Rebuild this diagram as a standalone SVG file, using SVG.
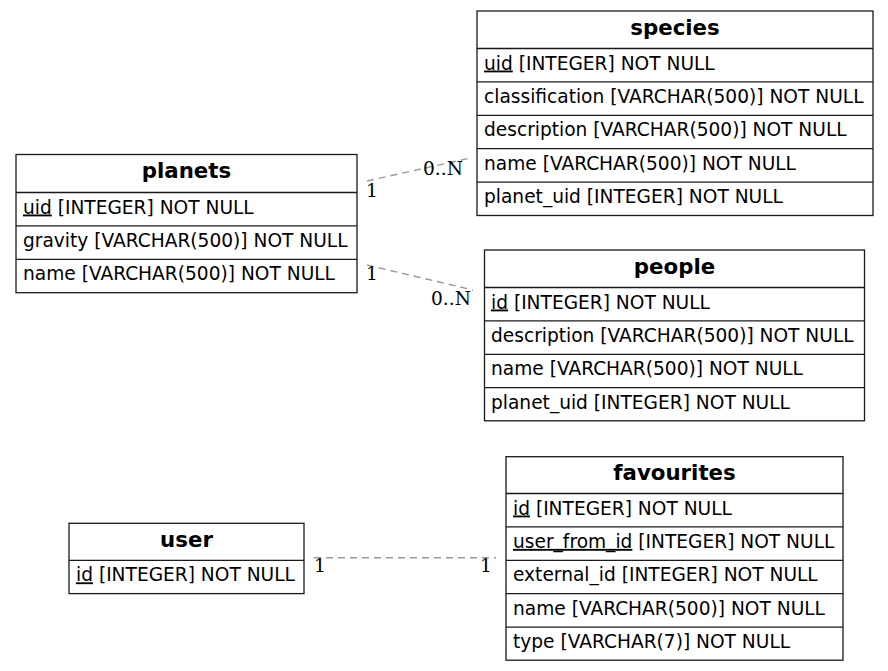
<svg xmlns="http://www.w3.org/2000/svg" width="888" height="671" viewBox="0 0 888 671">
<style>
.box{fill:#fff;stroke:#1a1a1a;stroke-width:1.3}
.sep{stroke:#1a1a1a;stroke-width:1.3}
.title{font-family:"DejaVu Sans",sans-serif;font-weight:bold;font-size:21.3px;fill:#000;text-anchor:middle}
.f{font-family:"DejaVu Sans",sans-serif;font-size:18.6px;fill:#000}
.pk{text-decoration:underline}
.edge{stroke:#999;stroke-width:1.4;stroke-dasharray:7,5;fill:none}
.lbl{font-family:"DejaVu Serif",serif;font-size:18.6px;fill:#000}
</style>
<rect width="888" height="671" fill="#fff"/>
<g id="connectors">
  <line class="edge" x1="367" y1="181" x2="468" y2="158.5"/>
  <line class="edge" x1="367" y1="265" x2="473" y2="290"/>
  <line class="edge" x1="314" y1="557.7" x2="496" y2="557.7"/>
  <text class="lbl" x="366" y="197">1</text>
  <text class="lbl" x="423" y="175">0..N</text>
  <text class="lbl" x="366" y="280">1</text>
  <text class="lbl" x="431" y="305">0..N</text>
  <text class="lbl" x="314" y="572">1</text>
  <text class="lbl" x="480" y="572">1</text>
</g>
<g id="species">
  <rect class="box" x="477" y="11" width="396" height="204.5"/>
  <line class="sep" x1="477" y1="48.5" x2="873" y2="48.5"/>
  <line class="sep" x1="477" y1="81.9" x2="873" y2="81.9"/>
  <line class="sep" x1="477" y1="115.3" x2="873" y2="115.3"/>
  <line class="sep" x1="477" y1="148.7" x2="873" y2="148.7"/>
  <line class="sep" x1="477" y1="182.1" x2="873" y2="182.1"/>
  <text class="title" x="675" y="34.5">species</text>
  <text class="f" x="484" y="69.5"><tspan class="pk">uid</tspan> [INTEGER] NOT NULL</text>
  <text class="f" x="484" y="102.9">classification [VARCHAR(500)] NOT NULL</text>
  <text class="f" x="484" y="136.3">description [VARCHAR(500)] NOT NULL</text>
  <text class="f" x="484" y="169.7">name [VARCHAR(500)] NOT NULL</text>
  <text class="f" x="484" y="203.1">planet_uid [INTEGER] NOT NULL</text>
</g>
<g id="planets">
  <rect class="box" x="16" y="154.5" width="341" height="138.2"/>
  <line class="sep" x1="16" y1="192.5" x2="357" y2="192.5"/>
  <line class="sep" x1="16" y1="225.9" x2="357" y2="225.9"/>
  <line class="sep" x1="16" y1="259.3" x2="357" y2="259.3"/>
  <text class="title" x="186.5" y="178">planets</text>
  <text class="f" x="23" y="213.5"><tspan class="pk">uid</tspan> [INTEGER] NOT NULL</text>
  <text class="f" x="23" y="246.9">gravity [VARCHAR(500)] NOT NULL</text>
  <text class="f" x="23" y="280.3">name [VARCHAR(500)] NOT NULL</text>
</g>
<g id="people">
  <rect class="box" x="484.5" y="250" width="380" height="170.8"/>
  <line class="sep" x1="484.5" y1="287.5" x2="864.5" y2="287.5"/>
  <line class="sep" x1="484.5" y1="320.9" x2="864.5" y2="320.9"/>
  <line class="sep" x1="484.5" y1="354.3" x2="864.5" y2="354.3"/>
  <line class="sep" x1="484.5" y1="387.7" x2="864.5" y2="387.7"/>
  <text class="title" x="674.5" y="273.5">people</text>
  <text class="f" x="491" y="308.5"><tspan class="pk">id</tspan> [INTEGER] NOT NULL</text>
  <text class="f" x="491" y="341.9">description [VARCHAR(500)] NOT NULL</text>
  <text class="f" x="491" y="375.3">name [VARCHAR(500)] NOT NULL</text>
  <text class="f" x="491" y="408.7">planet_uid [INTEGER] NOT NULL</text>
</g>
<g id="user">
  <rect class="box" x="69" y="523.3" width="235" height="70.3"/>
  <line class="sep" x1="69" y1="560.3" x2="304" y2="560.3"/>
  <text class="title" x="186.5" y="546.8">user</text>
  <text class="f" x="76" y="581.3"><tspan class="pk">id</tspan> [INTEGER] NOT NULL</text>
</g>
<g id="favourites">
  <rect class="box" x="506" y="456.7" width="337" height="203.5"/>
  <line class="sep" x1="506" y1="493.5" x2="843" y2="493.5"/>
  <line class="sep" x1="506" y1="526.9" x2="843" y2="526.9"/>
  <line class="sep" x1="506" y1="560.3" x2="843" y2="560.3"/>
  <line class="sep" x1="506" y1="593.7" x2="843" y2="593.7"/>
  <line class="sep" x1="506" y1="627.1" x2="843" y2="627.1"/>
  <text class="title" x="674.5" y="480">favourites</text>
  <text class="f" x="513" y="514.5"><tspan class="pk">id</tspan> [INTEGER] NOT NULL</text>
  <text class="f" x="513" y="547.9"><tspan class="pk">user_from_id</tspan> [INTEGER] NOT NULL</text>
  <text class="f" x="513" y="581.3">external_id [INTEGER] NOT NULL</text>
  <text class="f" x="513" y="614.7">name [VARCHAR(500)] NOT NULL</text>
  <text class="f" x="513" y="648.1">type [VARCHAR(7)] NOT NULL</text>
</g>
</svg>
